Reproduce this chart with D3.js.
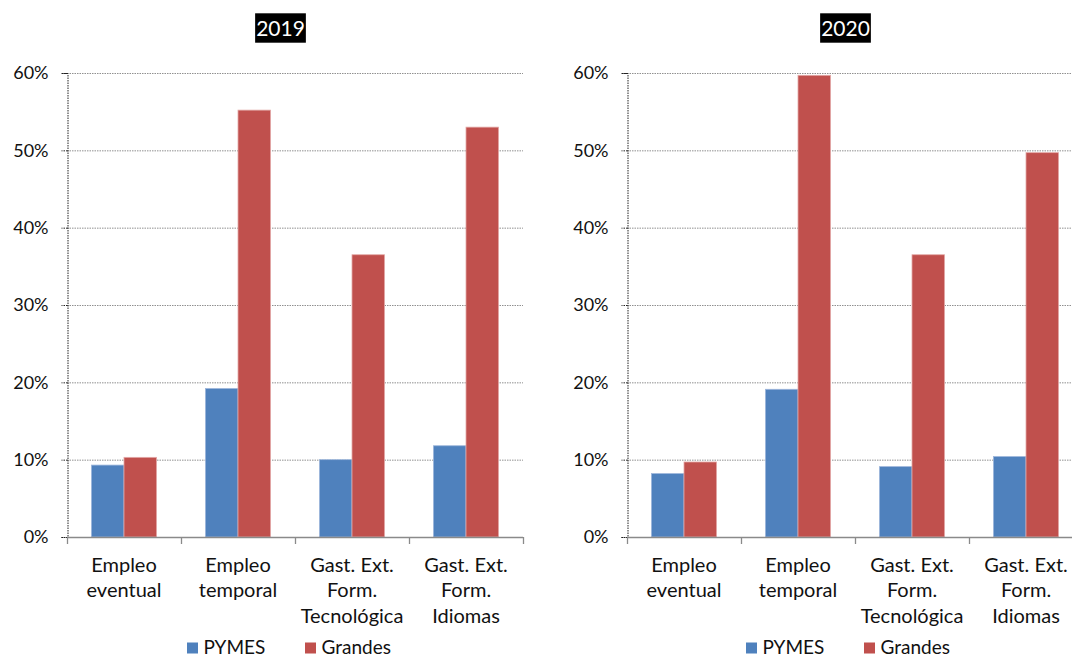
<!DOCTYPE html>
<html>
<head>
<meta charset="utf-8">
<script src="https://cdn.jsdelivr.net/npm/d3@7"></script>
<style>
  html, body { margin: 0; padding: 0; background: #fff; }
  svg { display: block; font-family: Lato, "Open Sans", sans-serif; }
</style>
</head>
<body>
<svg id="chart" width="1072" height="656"></svg>
<script>
// ---- data ----
const categories = ["Empleo\neventual", "Empleo\ntemporal", "Gast. Ext.\nForm.\nTecnológica", "Gast. Ext.\nForm.\nIdiomas"];
const seriesNames = ["PYMES", "Grandes"];
const seriesColors = ["#4F81BD", "#C0504D"];
const seriesStroke = ["#9DB6DB", "#E3A9A7"];
const years = ["2019", "2020"];
const pymes2019 = [9.3, 19.2, 10.0, 11.8];
const grandes2019 = [10.3, 55.2, 36.5, 53.0];
const pymes2020 = [8.2, 19.1, 9.1, 10.4];
const grandes2020 = [9.7, 59.7, 36.5, 49.7];
const yTicks = [0, 10, 20, 30, 40, 50, 60];

const svg = d3.select("#chart");

function panel(opts) {
  const { left, title, titleX, values, legendX } = opts;
  const plotW = 456, top = 73, bottom = 537;
  const g = svg.append("g");

  const x = d3.scaleBand().domain(categories).range([left, left + plotW]).paddingInner(0).paddingOuter(0);
  const xs = d3.scaleBand().domain(seriesNames).range([0, x.bandwidth()]).paddingInner(0).paddingOuter(0.75);
  const y = d3.scaleLinear().domain([0, 60]).range([bottom, top]);

  // gridlines
  g.append("g").selectAll("line").data(yTicks.filter(d => d > 0)).join("line")
    .attr("x1", left).attr("x2", left + plotW)
    .attr("y1", d => y(d) + 0.5).attr("y2", d => y(d) + 0.5)
    .attr("stroke", "#909090").attr("stroke-width", 1).attr("stroke-dasharray", "1.5,1");

  // y axis
  const yAxis = d3.axisLeft(y).tickValues(yTicks).tickSize(6).tickPadding(13).tickFormat(d => d + "%");
  const ya = g.append("g").attr("transform", `translate(${left + 0.5},0)`).call(yAxis);
  ya.select(".domain").attr("stroke", "#222").attr("stroke-dasharray", "1.5,1");
  ya.selectAll(".tick line").attr("stroke", "#222").attr("stroke-dasharray", "1.5,1");
  ya.selectAll(".tick text").attr("font-size", 18).attr("fill", "#111")
    .attr("font-family", "Lato, 'Open Sans', sans-serif");

  // bars
  const rows = categories.map((c, i) => ({ cat: c, vals: values.map((s, k) => ({ name: seriesNames[k], v: s[i], k })) }));
  const grp = g.append("g").selectAll("g").data(rows).join("g")
    .attr("transform", d => `translate(${x(d.cat)},0)`);
  grp.selectAll("rect").data(d => d.vals).join("rect")
    .attr("x", d => xs(d.name))
    .attr("width", xs.bandwidth())
    .attr("y", d => y(d.v))
    .attr("height", d => y(0) - y(d.v))
    .attr("fill", d => seriesColors[d.k])
    .attr("stroke", d => seriesStroke[d.k]).attr("stroke-width", 0.8);

  // x axis
  const xa = g.append("g");
  xa.append("line").attr("x1", left).attr("x2", left + plotW)
    .attr("y1", bottom + 0.5).attr("y2", bottom + 0.5)
    .attr("stroke", "#8a8a8a").attr("stroke-width", 1.6);
  const bounds = categories.map(c => x(c)).concat([left + plotW]);
  xa.selectAll("line.tk").data(bounds).join("line").attr("class", "tk")
    .attr("x1", d => d + 0.5).attr("x2", d => d + 0.5)
    .attr("y1", bottom).attr("y2", bottom + 7)
    .attr("stroke", "#8a8a8a").attr("stroke-width", 1.3);
  const lab = xa.selectAll("text").data(categories).join("text")
    .attr("x", d => x(d) + x.bandwidth() / 2)
    .attr("y", 571.5)
    .attr("text-anchor", "middle").attr("font-size", 20).attr("fill", "#111");
  lab.selectAll("tspan").data(d => d.split("\n")).join("tspan")
    .attr("x", function () { return d3.select(this.parentNode).attr("x"); })
    .attr("dy", (d, i) => i === 0 ? 0 : 25.5)
    .text(d => d);

  // title
  const tg = g.append("g");
  const tt = tg.append("text").attr("x", titleX).attr("y", 36)
    .attr("text-anchor", "middle").attr("font-size", 21).attr("fill", "#fff").text(title);
  const bb = tt.node().getBBox();
  tg.insert("rect", "text").attr("x", bb.x - 1).attr("y", 13.3).attr("width", bb.width + 2).attr("height", 29.4).attr("fill", "#000");

  // legend
  const lg = g.append("g");
  const legItems = seriesNames.map((n, k) => ({ n, k }));
  lg.selectAll("rect").data(legItems).join("rect")
    .attr("x", d => legendX[d.k]).attr("y", 642.5).attr("width", 11).attr("height", 11)
    .attr("fill", d => seriesColors[d.k]);
  lg.selectAll("text").data(legItems).join("text")
    .attr("x", d => legendX[d.k] + 16.5).attr("y", 653.5)
    .attr("font-size", 19).attr("fill", "#111").text(d => d.n);
}

panel({ left: 67, title: years[0], titleX: 280.5, values: [pymes2019, grandes2019], legendX: [187, 305] });
panel({ left: 627, title: years[1], titleX: 845.5, values: [pymes2020, grandes2020], legendX: [746, 864] });
</script>
</body>
</html>
